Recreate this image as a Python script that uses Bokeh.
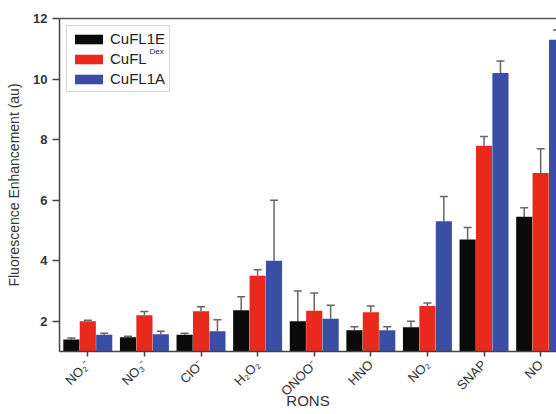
import math
from bokeh.plotting import figure
from bokeh.models import (ColumnDataSource, Whisker, TeeHead, FixedTicker, LinearAxis,
                          Legend, LegendItem, Label, Range1d)
from bokeh.embed import file_html
from bokeh.resources import INLINE

categories = ["NO\u2082\u207b", "NO\u2083\u207b", "ClO\u207b", "H\u2082O\u2082", "ONOO\u207b",
              "HNO", "NO\u2082", "SNAP", "NO"]
cufl1e = [1.40, 1.47, 1.55, 2.36, 2.00, 1.70, 1.80, 4.70, 5.45]
cufl1e_err = [0.05, 0.03, 0.05, 0.45, 1.00, 0.12, 0.20, 0.40, 0.30]
cufldex = [2.00, 2.20, 2.33, 3.50, 2.35, 2.30, 2.50, 7.80, 6.90]
cufldex_err = [0.03, 0.12, 0.15, 0.20, 0.58, 0.20, 0.10, 0.30, 0.80]
cufl1a = [1.55, 1.57, 1.67, 4.00, 2.08, 1.70, 5.30, 10.20, 11.30]
cufl1a_err = [0.05, 0.10, 0.38, 2.00, 0.45, 0.12, 0.82, 0.40, 0.32]
y_ticks = [2, 4, 6, 8, 10, 12]

series = [("CuFL1E", cufl1e, cufl1e_err, "#0a0a0a", -0.29),
          ("CuFL", cufldex, cufldex_err, "#e8291c", 0.0),
          ("CuFL1A", cufl1a, cufl1a_err, "#3b4ea6", 0.29)]

p = figure(width=556, height=414, output_backend="svg", toolbar_location=None,
           x_range=Range1d(-0.5, 8.28), y_range=Range1d(1, 12),
           min_border_left=59, min_border_right=0, min_border_top=18, min_border_bottom=63)
p.outline_line_color = None
p.grid.visible = False
p.background_fill_color = "white"

xs = list(range(len(categories)))
renderers = []
for name, vals, errs, color, off in series:
    src = ColumnDataSource(dict(x=[i + off for i in xs], top=vals,
                                upper=[v + e for v, e in zip(vals, errs)]))
    r = p.vbar(x="x", top="top", bottom=1, width=0.285, source=src,
               fill_color=color, line_color=None)
    renderers.append((name, r))
    w = Whisker(base="x", lower="top", upper="upper", source=src,
                line_color="#666666", line_width=1.5, lower_head=None,
                upper_head=TeeHead(size=8, line_color="#666666", line_width=1.5))
    p.add_layout(w)

# axes
xa = p.xaxis[0]
xa.ticker = FixedTicker(ticks=xs)
xa.major_label_overrides = {i: c for i, c in enumerate(categories)}
xa.major_label_orientation = math.pi / 4
xa.minor_tick_line_color = None
xa.major_tick_in = 0
xa.major_tick_out = 5
xa.axis_label = "RONS"
ya = p.yaxis[0]
ya.ticker = FixedTicker(ticks=y_ticks)
ya.minor_tick_line_color = None
ya.major_tick_in = 0
ya.major_tick_out = 7
ya.axis_label = "Fluorescence Enhancement (au)"
for ax in (xa, ya):
    ax.axis_line_color = "#444444"
    ax.axis_line_width = 1.5
    ax.major_tick_line_color = "#444444"
    ax.major_tick_line_width = 1.5
    ax.major_label_text_font = "Liberation Sans"
    ax.major_label_text_font_size = "13px"
    ax.major_label_text_color = "#333333"
    ax.axis_label_text_font = "Liberation Sans"
    ax.axis_label_text_font_style = "normal"
    ax.axis_label_text_color = "#333333"
ya.major_label_text_font_style = "bold"
ya.axis_label_text_font_size = "14px"
xa.axis_label_text_font_size = "15px"
ya.major_label_standoff = 5
ya.axis_label_standoff = 8
xa.major_label_standoff = 6
xa.axis_label_standoff = -15

top_axis = LinearAxis(ticker=FixedTicker(ticks=[]), major_tick_line_color=None,
                      minor_tick_line_color=None, axis_line_color="#555555",
                      axis_line_width=1.5)
p.add_layout(top_axis, "above")

legend = Legend(items=[LegendItem(label=n, renderers=[r]) for n, r in renderers],
                location="top_left", margin=7, padding=4, spacing=3,
                glyph_width=35, glyph_height=12, label_height=15, label_standoff=4,
                label_text_font="Liberation Sans", label_text_font_size="15px",
                label_text_color="#222222", border_line_color="#aaaaaa",
                border_line_width=1, background_fill_alpha=0)
p.add_layout(legend)
p.add_layout(Label(x=90, y=296, x_units="screen", y_units="screen", text="Dex",
                   text_font="Liberation Sans", text_font_size="8px",
                   text_color="#222222", level="overlay"))

open("out.html", "w").write(file_html(p, INLINE))
